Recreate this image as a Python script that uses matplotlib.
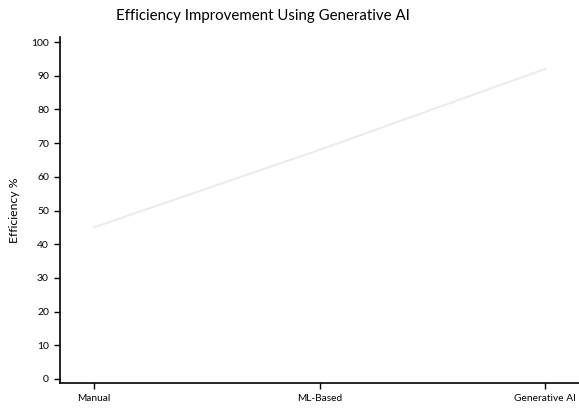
import matplotlib
matplotlib.use("Agg")
import matplotlib.pyplot as plt

# Efficiency by approach
methods = ["Manual", "ML-Based", "Generative AI"]
efficiency = [45, 68, 92]
y_ticks = [0, 10, 20, 30, 40, 50, 60, 70, 80, 90, 100]

plt.rcParams['font.family'] = ['Lato', 'DejaVu Sans']

fig = plt.figure(figsize=(5.79, 4.09), dpi=100)
ax = fig.add_axes([60 / 579, 1 - 383 / 409, 1 - 60 / 579, (383 - 37) / 409])

x = list(range(len(methods)))
ax.plot(x, efficiency, color="#ebebeb", linewidth=1.5)

ax.set_xlim(-0.15, 2.15)
ax.set_ylim(-1.2, 101.5)
ax.set_xticks(x)
ax.set_xticklabels(methods, fontsize=7.3)
ax.set_yticks(y_ticks)
ax.set_yticklabels([str(v) for v in y_ticks], fontsize=7.5)
ax.tick_params(length=4, width=1, pad=4, colors="black")

for side in ["top", "right"]:
    ax.spines[side].set_visible(False)
for side in ["left", "bottom"]:
    ax.spines[side].set_linewidth(1.2)

ax.set_ylabel("Efficiency %", fontsize=8.8, labelpad=8)
fig.text(263 / 579, 1 - 16 / 409, "Efficiency Improvement Using Generative AI",
         ha="center", va="center", fontsize=10.8)

fig.savefig("out.png", dpi=100)
